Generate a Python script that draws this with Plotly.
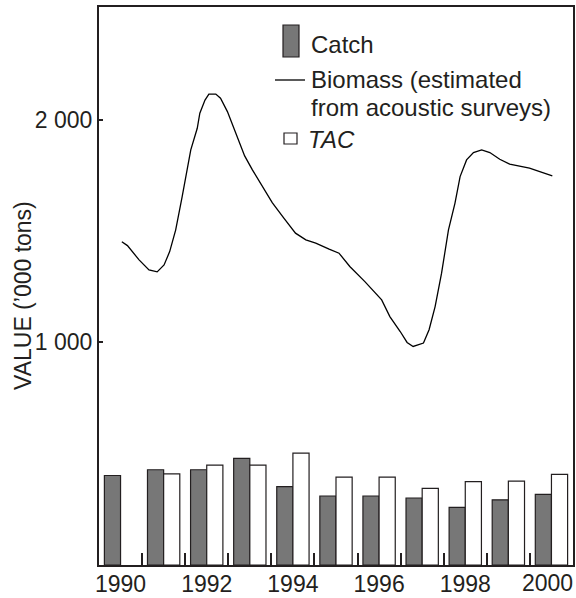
import plotly.graph_objects as go

# ---- data ----
years = [1990, 1991, 1992, 1993, 1994, 1995, 1996, 1997, 1998, 1999, 2000]
catch = [402, 428, 428, 479, 352, 310, 310, 301, 259, 293, 317]
tac = [None, 409, 449, 449, 503, 395, 395, 344, 375, 377, 407]

biomass_t = [1990.03, 1990.16, 1990.43, 1990.66, 1990.85, 1991.01, 1991.14, 1991.28,
             1991.43, 1991.63, 1991.78, 1991.84, 1991.96, 1992.05, 1992.21, 1992.32,
             1992.48, 1992.63, 1992.75, 1992.88, 1993.06, 1993.29, 1993.52, 1993.79,
             1994.06, 1994.30, 1994.53, 1994.84, 1995.07, 1995.32, 1995.67, 1996.06,
             1996.25, 1996.49, 1996.65, 1996.79, 1997.03, 1997.16, 1997.30, 1997.45,
             1997.61, 1997.76, 1997.88, 1998.03, 1998.19, 1998.38, 1998.57, 1998.80,
             1999.03, 1999.49, 2000.02]
biomass_v = [1452, 1435, 1371, 1326, 1317, 1348, 1408, 1506,
             1655, 1865, 1962, 2030, 2089, 2116, 2116, 2097,
             2037, 1962, 1910, 1838, 1775, 1700, 1628, 1558,
             1491, 1461, 1446, 1419, 1401, 1341, 1273, 1191,
             1116, 1049, 1000, 982, 997, 1057, 1161, 1311,
             1506, 1625, 1745, 1820, 1853, 1865, 1853, 1823,
             1801, 1783, 1748]

xtick_vals = [1990, 1992, 1994, 1996, 1998, 2000]
xtick_text = ["1990", "1992", "1994", "1996", "1998", "2000"]
ytick_vals = [1000, 2000]
ytick_text = ["1 000", "2 000"]
half_years = [1990.5, 1991.5, 1992.5, 1993.5, 1994.5, 1995.5, 1996.5, 1997.5, 1998.5, 1999.5]

legend_catch = "Catch"
legend_bio1 = "Biomass (estimated"
legend_bio2 = "from acoustic surveys)"
legend_tac = "<i>TAC</i>"
y_title = "VALUE (\u2019000 tons)"

# ---- style ----
INK = "#231f20"
GREY = "#777777"
FONT = "Liberation Sans, Arial, Helvetica, sans-serif"
W, H = 576, 598
L, R, T, B = 99, 3, 7, 33
PW, PH = W - L - R, H - T - B


def px(xp):
    return (xp - L) / PW


def py(yp):
    return (H - B - yp) / PH


fig = go.Figure()
fig.add_trace(go.Bar(x=years, y=catch, name=legend_catch, marker=dict(color=GREY, line=dict(color=INK, width=1.2)),
                     showlegend=False, hoverinfo="skip"))
fig.add_trace(go.Bar(x=years, y=tac, name="TAC", marker=dict(color="white", line=dict(color=INK, width=1.2)),
                     showlegend=False, hoverinfo="skip"))
fig.add_trace(go.Scatter(x=biomass_t, y=biomass_v, mode="lines", line=dict(color="black", width=1.3),
                         showlegend=False, hoverinfo="skip"))

shapes = [
    dict(type="rect", xref="paper", yref="paper", x0=px(283), x1=px(299), y0=py(57), y1=py(25),
         fillcolor=GREY, line=dict(color=INK, width=1.2)),
    dict(type="line", xref="paper", yref="paper", x0=px(275), x1=px(305), y0=py(80), y1=py(80),
         line=dict(color="black", width=1.3)),
    dict(type="rect", xref="paper", yref="paper", x0=px(284), x1=px(297), y0=py(144), y1=py(133),
         fillcolor="white", line=dict(color=INK, width=1.2)),
]

leg_font = dict(family=FONT, size=24, color=INK)
tick_font = dict(family=FONT, size=23, color=INK)
annotations = [
    dict(text=legend_catch, x=px(309), y=py(44), xref="paper", yref="paper", xanchor="left", yanchor="middle",
         showarrow=False, font=leg_font),
    dict(text=legend_bio1, x=px(309), y=py(79), xref="paper", yref="paper", xanchor="left", yanchor="middle",
         showarrow=False, font=leg_font),
    dict(text=legend_bio2, x=px(309), y=py(107), xref="paper", yref="paper", xanchor="left", yanchor="middle",
         showarrow=False, font=leg_font),
    dict(text=legend_tac, x=px(306), y=py(139), xref="paper", yref="paper", xanchor="left", yanchor="middle",
         showarrow=False, font=leg_font),
    dict(text=y_title, x=px(23), y=py(296), xref="paper", yref="paper", xanchor="center", yanchor="middle",
         textangle=-90, showarrow=False, font=dict(family=FONT, size=23, color=INK)),
    # last year label, nudged left so it stays inside the page as in the original
    dict(text=xtick_text[-1], x=xtick_vals[-1], xref="x", xshift=-4, y=py(583), yref="paper",
         xanchor="center", yanchor="middle", showarrow=False, font=tick_font),
]

fig.update_layout(
    width=W, height=H,
    margin=dict(l=L, r=R, t=T, b=B, pad=0, autoexpand=False),
    paper_bgcolor="white", plot_bgcolor="white",
    barmode="group", bargap=0.25, bargroupgap=0,
    font=dict(family=FONT, size=23, color=INK),
    shapes=shapes, annotations=annotations,
    showlegend=False,
)
fig.update_xaxes(range=[1989.5, 2000.5], tickvals=xtick_vals[:-1], ticktext=xtick_text[:-1], ticks="",
                 showgrid=False, zeroline=False, showline=True, linecolor=INK, linewidth=2, mirror=True,
                 automargin=False, tickfont=tick_font, ticklabelstandoff=-3,
                 minor=dict(tickvals=half_years, ticks="inside", ticklen=12, tickwidth=1.5, tickcolor=INK,
                            showgrid=False))
fig.update_yaxes(range=[0, 2507], tickvals=ytick_vals, ticktext=ytick_text, ticks="inside", ticklen=4,
                 tickwidth=1.5, tickcolor=INK, showgrid=False, zeroline=False, showline=True, linecolor=INK,
                 linewidth=2, mirror=True, automargin=False, tickfont=tick_font)

fig.write_html("out.html", config={"displayModeBar": False},
               post_script="document.body.style.margin='0';document.body.style.overflow='hidden';")
